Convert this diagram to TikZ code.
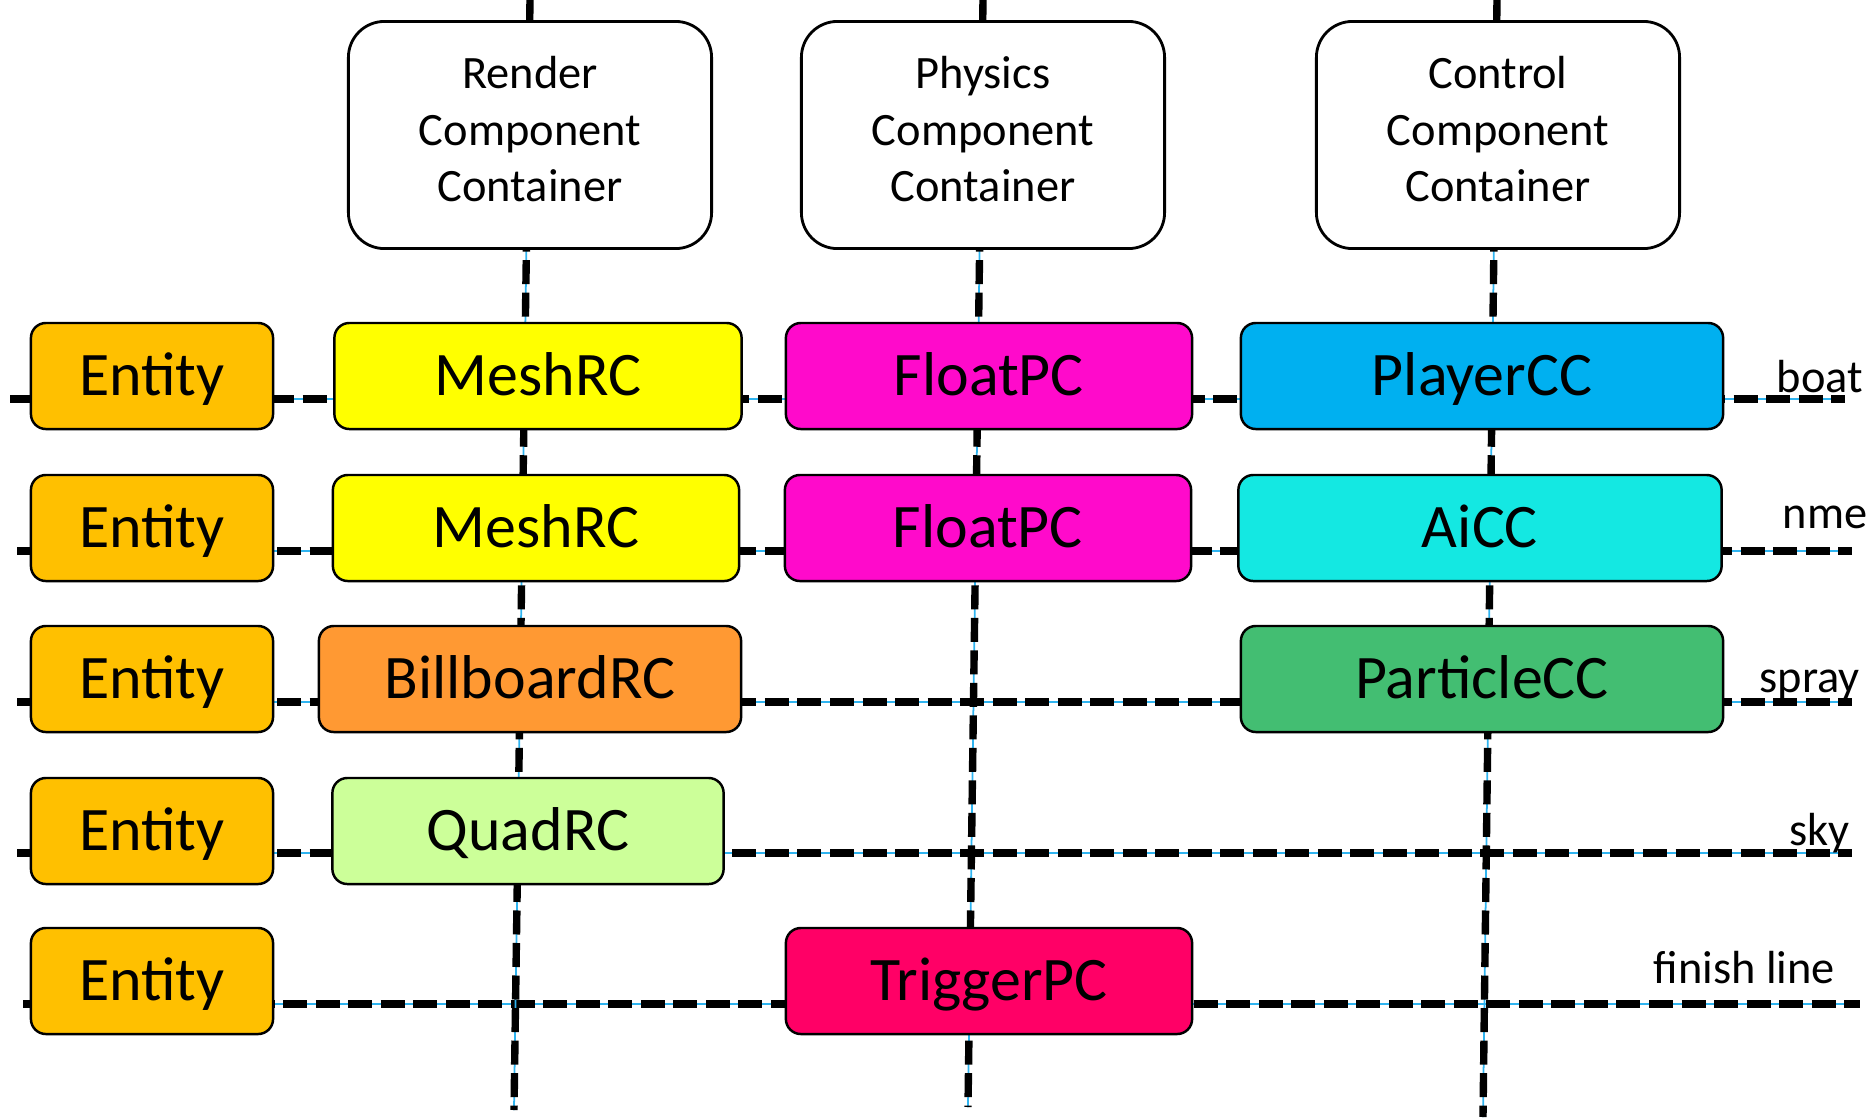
\documentclass[tikz,border=0pt]{standalone}
\usepackage{fontspec}
\setmainfont{Carlito}
\definecolor{entcol}{HTML}{FFC000}
\definecolor{meshcol}{HTML}{FFFF00}
\definecolor{floatcol}{HTML}{FF0ACB}
\definecolor{playercol}{HTML}{00B0F0}
\definecolor{aicol}{HTML}{14E8E2}
\definecolor{billcol}{HTML}{FF9933}
\definecolor{partcol}{HTML}{43BE72}
\definecolor{quadcol}{HTML}{CCFF99}
\definecolor{trigcol}{HTML}{FF0066}
\definecolor{linkblue}{HTML}{2FB4F0}

\tikzset{
  link/.style={line width=2.1pt, dash pattern=on 0.24cm off 0.085cm,
    preaction={draw=linkblue, solid, line width=0.5pt}},
  comp/.style={draw, line width=0.7pt, rounded corners=0.15cm, minimum height=1.06cm,
    inner sep=0pt, text height=0.5cm, text depth=0.11cm,
    font=\fontsize{17.6}{21}\selectfont},
  container/.style={draw, line width=0.8pt, fill=white, rounded corners=0.36cm,
    minimum width=3.63cm, minimum height=2.27cm, align=center, text depth=0.12cm,
    font=\fontsize{13.2}{16.1}\selectfont},
  rowlabel/.style={anchor=base west, inner sep=0pt, font=\fontsize{13.2}{16}\selectfont}
}

\begin{document}
\begin{tikzpicture}[x=0.01cm, y=-0.01cm]
\useasboundingbox (0,0) rectangle (1871,1117);

% ends of the row and column lines
\coordinate (rowL1) at (10,399);   \coordinate (rowR1) at (1845,399);
\coordinate (rowL2) at (17,551);   \coordinate (rowR2) at (1852,551);
\coordinate (rowL3) at (17,702);   \coordinate (rowR3) at (1852,702);
\coordinate (rowL4) at (17,853);   \coordinate (rowR4) at (1852,853);
\coordinate (rowL5) at (23,1004);  \coordinate (rowR5) at (1860,1004);
\coordinate (rtop) at (530,0);     \coordinate (rbot) at (514,1110);
\coordinate (ptop) at (983,0);     \coordinate (pbot) at (968,1107);
\coordinate (ctop) at (1497,0);    \coordinate (cbot) at (1483,1117);

\draw[link] (rowL1) -- (rowR1);
\draw[link] (rowL2) -- (rowR2);
\draw[link] (rowL3) -- (rowR3);
\draw[link] (rowL4) -- (rowR4);
\draw[link] (rowL5) -- (rowR5);
\draw[link] (rtop) -- (rbot);
\draw[link] (ptop) -- (pbot);
\draw[link] (ctop) -- (cbot);

% containers
\node[container] (render) at (530,135) {Render\\Component\\Container};
\node[container] (physics) at (983,135) {Physics\\Component\\Container};
\node[container] (control) at (1498,135) {Control\\Component\\Container};

% entities
\foreach \i/\y in {1/376, 2/528, 3/679, 4/831, 5/981}
  \node[comp, fill=entcol, minimum width=2.42cm] (ent\i) at (152,\y) {Entity};

% components
\node[comp, fill=meshcol, minimum width=4.07cm] (mesh1) at (538,376) {MeshRC};
\node[comp, fill=floatcol, minimum width=4.06cm] (float1) at (989,376) {FloatPC};
\node[comp, fill=playercol, minimum width=4.82cm] (player) at (1482,376) {PlayerCC};

\node[comp, fill=meshcol, minimum width=4.06cm] (mesh2) at (536,528) {MeshRC};
\node[comp, fill=floatcol, minimum width=4.06cm] (float2) at (988,528) {FloatPC};
\node[comp, fill=aicol, minimum width=4.83cm] (ai) at (1480,528) {AiCC};

\node[comp, fill=billcol, minimum width=4.22cm] (billboard) at (530,679) {BillboardRC};
\node[comp, fill=partcol, minimum width=4.82cm] (particle) at (1482,679) {ParticleCC};

\node[comp, fill=quadcol, minimum width=3.91cm] (quad) at (528,831) {QuadRC};

\node[comp, fill=trigcol, minimum width=4.06cm] (trigger) at (989,981) {TriggerPC};

% row names
\node[rowlabel] (boat) at (1776,392) {boat};
\node[rowlabel] (nme) at (1782,528) {nme};
\node[rowlabel] (spray) at (1759,692) {spray};
\node[rowlabel] (sky) at (1789,845) {sky};
\node[rowlabel] (finish) at (1653,983) {finish line};
\end{tikzpicture}
\end{document}
